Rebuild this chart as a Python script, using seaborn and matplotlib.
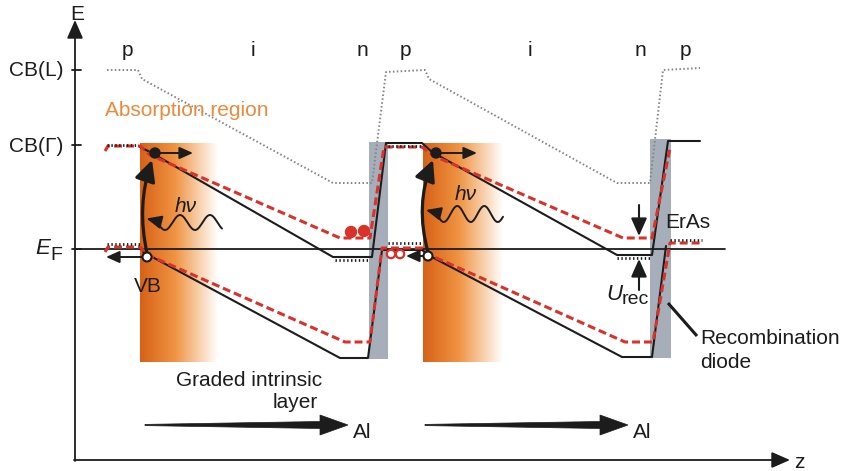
import numpy as np
import matplotlib
matplotlib.use("Agg")
import matplotlib.pyplot as plt
import seaborn as sns
from matplotlib.patches import Rectangle, FancyArrowPatch, Polygon, Circle

sns.set_theme(style="white")
plt.rcParams['font.family'] = ['Liberation Sans', 'DejaVu Sans']

# ---- band-edge profiles along z (schematic units; energy axis points up) ----
z_cbl = [107, 138, 142, 333, 372, 386, 425, 429, 617, 650, 663, 700]
e_cbl = [70, 70, 79, 183, 183, 72, 70, 79, 183, 183, 70, 68]

z_cb_black = [140, 150, 333, 372, 386, 422, 432, 617, 652, 668, 700]
e_cb_black = [147, 152, 257, 257, 143, 143, 152, 255, 255, 141, 141]

z_cb_red = [105, 108, 140, 150, 340, 370, 384, 422, 434, 623, 652, 670]
e_cb_red = [151, 146, 146, 155, 238, 238, 147, 147, 156, 238, 238, 148]

z_vb_black = [143, 340, 368, 382, 422, 430, 622, 652, 666]
e_vb_black = [252, 358, 358, 250, 250, 256, 357, 357, 246]

z_vb_red = [105, 108, 140, 148, 345, 370, 382, 422, 432, 625, 653, 670, 702]
e_vb_red = [252, 247, 247, 255, 342, 342, 248, 248, 256, 342, 342, 243, 243]

# quasi-Fermi level segments (start z, end z, energy)
qf_z0 = [107, 388, 335, 617, 670, 107, 388]
qf_z1 = [140, 422, 370, 652, 702, 138, 422]
qf_e = [244, 243, 260, 258, 240, 145, 146]

e_fermi = 249

# energy ticks on the E axis
tick_e = [70, 145, 249]

# layer labels
layer_names = ['p', 'i', 'n', 'p', 'i', 'n', 'p']
layer_z = [127, 253, 362, 405, 530, 640, 685]

# ErAs recombination layers (z0, z1, e_top, e_bottom)
eras_z0 = [369, 650]
eras_z1 = [388, 671]
eras_top = [142, 139]
eras_bot = [359, 358]

# absorption regions (z0, z1)
abs_z0 = [140, 423]
abs_z1 = [218, 503]

BLACK = '#1c1c1c'
RED = '#d9322b'
GRAY = '#858585'
ORANGE_TXT = '#e98a3c'

fig = plt.figure(figsize=(8.43, 4.71), dpi=100)
ax = fig.add_axes([0, 0, 1, 1])

# ErAs layers
for a, b, t, bt in zip(eras_z0, eras_z1, eras_top, eras_bot):
    ax.add_patch(Rectangle((a, t), b - a, bt - t, facecolor='#a6afb9',
                           edgecolor='none', zorder=1))

# absorption regions: orange fading to white along z
stops_t = np.array([0.0, 0.45, 1.0])
stops_c = np.array([[0.84, 0.38, 0.09], [0.94, 0.58, 0.26], [1.0, 1.0, 1.0]])
tt = np.linspace(0, 1, 256)
grad = np.stack([np.interp(tt, stops_t, stops_c[:, k]) for k in range(3)], axis=-1)
for a, b in zip(abs_z0, abs_z1):
    ax.imshow(grad[None, :, :], extent=(a, b, 362, 143), aspect='auto',
              interpolation='bilinear', zorder=1)

# band edges
sns.lineplot(x=z_cbl, y=e_cbl, sort=False, estimator=None, ax=ax, color=GRAY,
             lw=1.4, linestyle=(0, (0.8, 1.2)), zorder=2)
sns.lineplot(x=z_cb_black, y=e_cb_black, sort=False, estimator=None, ax=ax,
             color=BLACK, lw=1.5, zorder=3)
sns.lineplot(x=z_vb_black, y=e_vb_black, sort=False, estimator=None, ax=ax,
             color=BLACK, lw=1.5, zorder=3)
sns.lineplot(x=z_cb_red, y=e_cb_red, sort=False, estimator=None, ax=ax,
             color=RED, lw=2.2, linestyle=(0, (2.6, 1.3)), zorder=4)
sns.lineplot(x=z_vb_red, y=e_vb_red, sort=False, estimator=None, ax=ax,
             color=RED, lw=2.2, linestyle=(0, (2.6, 1.3)), zorder=4)
for a, b, e in zip(qf_z0, qf_z1, qf_e):
    ax.plot([a, b], [e, e], color=BLACK, lw=2.0, linestyle=(0, (0.5, 0.9)), zorder=5)

# Fermi level
ax.plot([75, 725], [e_fermi, e_fermi], color=BLACK, lw=1.3, zorder=3)

# axes arrows
arrow_kw = dict(arrowstyle='-|>,head_length=0.8,head_width=0.35', color=BLACK,
                lw=1.3, mutation_scale=14, shrinkA=0, shrinkB=0)
ax.annotate('', xy=(75, 20), xytext=(75, 461), arrowprops=arrow_kw, zorder=6)
ax.annotate('', xy=(790, 460), xytext=(74, 460), arrowprops=arrow_kw, zorder=6)
for e in tick_e:
    ax.plot([72, 81], [e, e], color=BLACK, lw=1.3)

fs = 15
ax.text(77, 14, 'E', fontsize=fs, ha='center', va='center', color=BLACK)
ax.text(799, 462, 'z', fontsize=fs, ha='center', va='center', color=BLACK)
ax.text(63, 71, 'CB(L)', fontsize=fs, ha='right', va='center', color=BLACK)
ax.text(63, 146, 'CB(\u0393)', fontsize=fs, ha='right', va='center', color=BLACK)
ax.text(50, 249, 'E', fontsize=fs + 1, ha='right', va='center', style='italic', color=BLACK)
ax.text(50, 256, 'F', fontsize=fs - 1, ha='left', va='center', color=BLACK)
for name, z in zip(layer_names, layer_z):
    ax.text(z, 51, name, fontsize=fs, ha='center', va='center', color=BLACK)

ax.text(105, 111, 'Absorption region', fontsize=fs, ha='left', va='center', color=ORANGE_TXT)
ax.text(148, 286, 'VB', fontsize=fs, ha='center', va='center', color=BLACK)
ax.text(249, 381, 'Graded intrinsic', fontsize=fs, ha='center', va='center', color=BLACK)
ax.text(318, 403, 'layer', fontsize=fs, ha='right', va='center', color=BLACK)
ax.text(665, 222, 'ErAs', fontsize=fs, ha='left', va='center', color=BLACK)
ax.text(622, 295, 'U', fontsize=fs + 1, ha='right', va='center', style='italic', color=BLACK)
ax.text(622, 299, 'rec', fontsize=fs - 1, ha='left', va='center', color=BLACK)
ax.text(700, 339, 'Recombination', fontsize=fs, ha='left', va='center', color=BLACK)
ax.text(700, 363, 'diode', fontsize=fs, ha='left', va='center', color=BLACK)
ax.plot([668, 697], [303, 336], color=BLACK, lw=2.2, solid_capstyle='butt')

# carriers: electrons (filled) and holes (open)
def small_arrow(x0, y0, x1, y1, lw=1.4, scale=9):
    ax.annotate('', xy=(x1, y1), xytext=(x0, y0), zorder=7,
                arrowprops=dict(arrowstyle='-|>,head_length=0.9,head_width=0.4',
                                color=BLACK, lw=lw, mutation_scale=scale,
                                shrinkA=0, shrinkB=0))

elec_z = [155, 436]
elec_e = [153, 153]
hole_z = [147, 428]
hole_e = [257, 256]
for zz, ee in zip(elec_z, elec_e):
    ax.add_patch(Circle((zz, ee), 5, facecolor=BLACK, edgecolor=BLACK, zorder=8))
small_arrow(158, 153, 193, 153)
small_arrow(439, 153, 477, 153)
for zz, ee in zip(hole_z, hole_e):
    ax.add_patch(Circle((zz, ee), 4.5, facecolor='white', edgecolor=BLACK, lw=1.5, zorder=8))
small_arrow(142, 257, 106, 257)
small_arrow(423, 256, 406, 256)

# accumulated carriers at the recombination layer
ax.add_patch(Circle((351, 232), 5.5, facecolor=RED, edgecolor=RED, zorder=6))
ax.add_patch(Circle((364, 231), 5.5, facecolor=RED, edgecolor=RED, zorder=6))
for zz in [391, 400]:
    ax.add_patch(Circle((zz, 254), 4.2, facecolor='white', edgecolor=RED, lw=1.6, zorder=6))

# optical excitation arrows
for (xa, ya, xb, yb, rad) in [(147, 253, 152, 160, -0.14), (428, 252, 433, 160, -0.17)]:
    ax.add_patch(FancyArrowPatch((xa, ya), (xb, yb), connectionstyle=f'arc3,rad={rad}',
                                 arrowstyle='-|>,head_length=0.85,head_width=0.42',
                                 mutation_scale=15, lw=2.3, color=BLACK, zorder=7,
                                 shrinkA=0, shrinkB=0))

# photons
def photon(x_start, x_end, yc, amp=7.5, period=30):
    xs = np.linspace(x_start, x_end, 200)
    ys = yc + amp * np.sin(2 * np.pi * (xs - x_start) / period)
    ax.plot(xs, ys, color=BLACK, lw=1.4, zorder=7)
    small_arrow(x_start + 1, yc - 1, x_start - 11, yc - 4, lw=1.4, scale=10)

photon(157.5, 222, 222.5)
photon(437, 503, 214, amp=8, period=27)
ax.text(186, 207, 'h\u03bd', fontsize=fs, ha='center', va='center', style='italic', color=BLACK)
ax.text(466, 195, 'h\u03bd', fontsize=fs, ha='center', va='center', style='italic', color=BLACK)

# U_rec indicators
small_arrow(639, 205, 639, 236, lw=1.5, scale=12)
small_arrow(639, 290, 639, 259, lw=1.5, scale=12)

# Al grading arrows
al_start = [145, 425]
al_tip = [348, 628]
al_y = 425
for s, t in zip(al_start, al_tip):
    hb = t - 28
    ax.add_patch(Polygon([(s, al_y - 0.6), (hb, al_y - 3.5), (hb, al_y - 10),
                          (t, al_y), (hb, al_y + 10), (hb, al_y + 3.5), (s, al_y + 0.6)],
                         closed=True, facecolor=BLACK, edgecolor=BLACK, lw=0.5, zorder=6))
    ax.text(t + 5, al_y + 7, 'Al', fontsize=fs, ha='left', va='center', color=BLACK)

ax.set_xlim(0, 843)
ax.set_ylim(471, 0)
ax.axis('off')
fig.savefig('out.png', dpi=100)
